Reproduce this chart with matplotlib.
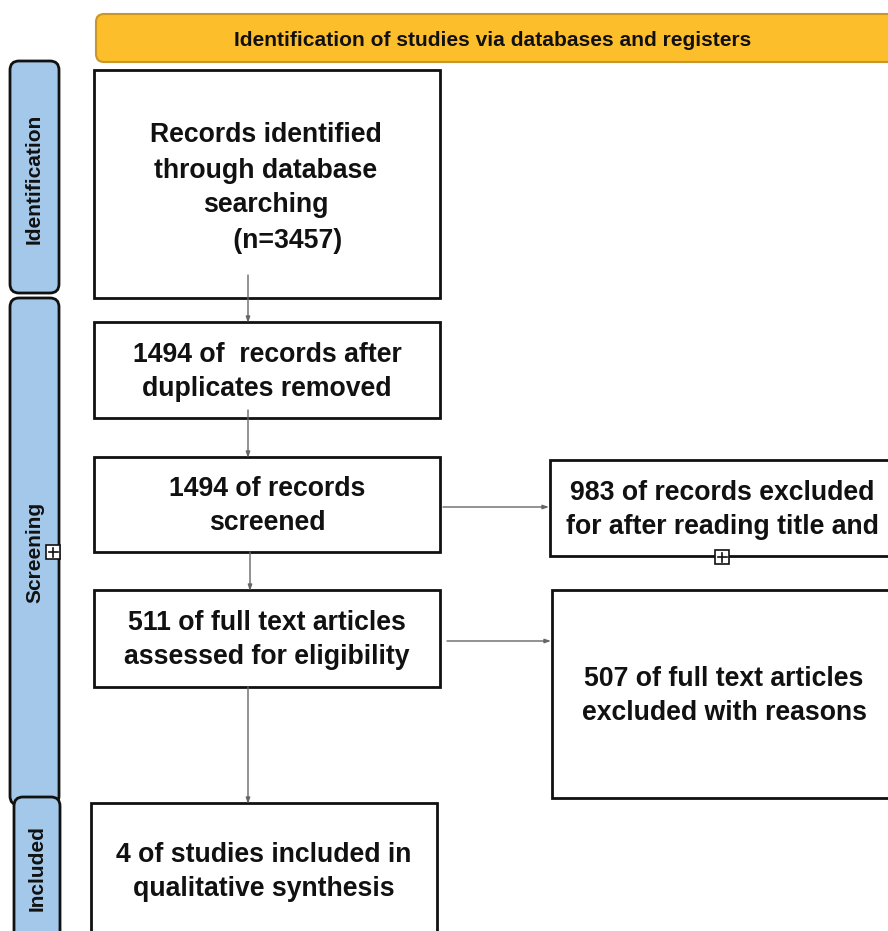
import matplotlib
matplotlib.use("Agg")
import matplotlib.pyplot as plt
from matplotlib.patches import FancyBboxPatch, Rectangle

W, H = 888, 931
plt.rcParams['font.family'] = ['Liberation Sans', 'DejaVu Sans']

banner_text = "Identification of studies via databases and registers"
phase_labels = ["Identification", "Screening", "Included"]
box_texts = [
    "Records identified\nthrough database\nsearching\n      (n=3457)",
    "1494 of  records after\nduplicates removed",
    "1494 of records\nscreened",
    "983 of records excluded\nfor after reading title and",
    "511 of full text articles\nassessed for eligibility",
    "507 of full text articles\nexcluded with reasons",
    "4 of studies included in\nqualitative synthesis",
]

# layout (pixel coordinates): x0, y0, x1, y1
phase_boxes = [(10, 61, 59, 293), (10, 298, 59, 805), (14, 797, 60, 960)]
phase_text_y = [179, 552, 868]
boxes = [
    (94, 70, 440, 298),
    (94, 322, 440, 418),
    (94, 457, 440, 552),
    (550, 460, 894, 556),
    (94, 590, 440, 687),
    (552, 590, 897, 798),
    (91, 803, 437, 940),
]
text_pos = [(266, 188), (267, 372), (267, 506), (722, 510), (267, 640), (724, 696), (264, 872)]
arrows = [
    ((248, 275), (248, 323)),
    ((248, 410), (248, 458)),
    ((250, 552), (250, 591)),
    ((248, 687), (248, 804)),
    ((443, 507), (549, 507)),
    ((447, 641), (551, 641)),
]
icons = [(53, 552), (722, 557)]

fig = plt.figure(figsize=(W / 100, H / 100), dpi=100)
ax = fig.add_axes([0, 0, 1, 1])
ax.set_xlim(0, W)
ax.set_ylim(H, 0)
ax.axis('off')

# banner
ax.add_patch(FancyBboxPatch((96, 14), 820, 48, boxstyle="round,pad=0,rounding_size=8",
                            facecolor="#FDBE2C", edgecolor="#C9962A", lw=1.5))
ax.text(493, 40, banner_text, ha='center', va='center', fontsize=15.1,
        fontweight='bold', color='#111111')

# phase bars
for (x0, y0, x1, y1), lab, ty in zip(phase_boxes, phase_labels, phase_text_y):
    ax.add_patch(FancyBboxPatch((x0, y0), x1 - x0, y1 - y0,
                                boxstyle="round,pad=0,rounding_size=9",
                                facecolor="#A4C8E9", edgecolor="#111111", lw=2))
    ax.text((x0 + x1) / 2, ty, lab, rotation=90, ha='center', va='center',
            fontsize=15, fontweight='bold', color='#111111')

# boxes
for (x0, y0, x1, y1), t, (tx, ty) in zip(boxes, box_texts, text_pos):
    ax.add_patch(Rectangle((x0, y0), x1 - x0, y1 - y0, facecolor='white',
                           edgecolor='#111111', lw=2))
    ax.text(tx, ty, t, ha='center', va='center', fontsize=19.2, fontweight='bold',
            color='#111111', linespacing=1.45)

# arrows
for (p0, p1) in arrows:
    ax.annotate("", xy=p1, xytext=p0,
                arrowprops=dict(arrowstyle="-|>,head_length=0.35,head_width=0.12",
                                color="#666666", lw=1, shrinkA=0, shrinkB=0))

# small icons
for (cx, cy) in icons:
    s = 14
    ax.add_patch(Rectangle((cx - s / 2, cy - s / 2), s, s, facecolor='white',
                           edgecolor='#111111', lw=1.2, zorder=5))
    ax.plot([cx - 4.5, cx + 4.5], [cy, cy], color='#111111', lw=1.2, zorder=6)
    ax.plot([cx, cx], [cy - 4.5, cy + 4.5], color='#111111', lw=1.2, zorder=6)

fig.savefig("out.png", dpi=100)
